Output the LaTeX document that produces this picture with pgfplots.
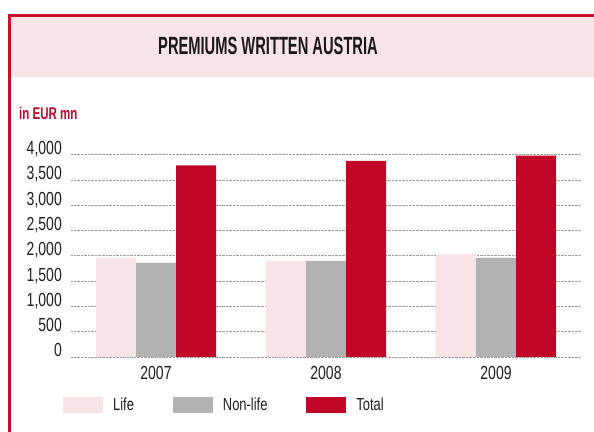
\documentclass[border=0pt]{standalone}
\usepackage{fontspec}
\setmainfont{Liberation Sans}[FakeStretch=0.74]
\newfontfamily\titlefont{Liberation Sans}[FakeStretch=0.59]
\newfontfamily\subfont{Liberation Sans}[FakeStretch=0.68]
\usepackage{pgfplots}
\pgfplotsset{compat=1.18}
\definecolor{lifec}{RGB}{248,228,230}
\definecolor{nonc}{RGB}{177,178,180}
\definecolor{totc}{RGB}{193,5,39}
\definecolor{framec}{RGB}{200,16,46}
\begin{document}
\begin{tikzpicture}
\path[use as bounding box] (0,0) rectangle (594bp,432bp);
\clip (0,0) rectangle (594bp,432bp);
\fill[lifec] (10.7bp,355.3bp) rectangle (600bp,415.3bp);
\draw[framec, line width=2.6bp] (9.3bp,-5bp) -- (9.3bp,416.7bp) -- (600bp,416.7bp);
\node[font=\titlefont\bfseries\fontsize{25}{29}\selectfont, text=black!90, inner sep=0pt] at (268bp,385.7bp) {PREMIUMS WRITTEN AUSTRIA};
\node[font=\subfont\bfseries\fontsize{17}{20}\selectfont, text=totc, inner sep=0pt, anchor=base west] at (19bp,312bp) {in EUR mn};
\begin{axis}[
  at={(71bp,75bp)}, anchor=south west,
  scale only axis, width=510bp, height=202.3bp,
  xmin=-0.5, xmax=2.5, ymin=0, ymax=4000,
  ybar=0pt, bar width=40bp,
  xtick={0,1,2}, xticklabels={2007,2008,2009},
  ytick={0,500,...,4000},
  ymajorgrids, major grid style={densely dotted, black!40, line width=0.7bp},
  axis line style={draw=none}, major tick length=0pt,
  tick label style={font=\fontsize{19}{22}\selectfont, text=black!88},
  yticklabel style={anchor=base east, inner sep=0pt, xshift=-9bp},
  xticklabel style={anchor=base, inner sep=0pt, yshift=-23bp},
  /pgf/number format/.cd, 1000 sep={,}, assume math mode=true, /pgfplots/.cd,
  legend columns=3,
  legend image code/.code={\fill[#1] (0bp,-8bp) rectangle (40bp,8bp);},
  legend style={draw=none, fill=none, inner sep=0pt, at={(-0.0157,-0.2373)}, anchor=west,
    font=\fontsize{17.5}{21}\selectfont, text=black!88, nodes={inner sep=0pt},
    /tikz/every odd column/.append style={column sep=10bp},
    /tikz/every even column/.append style={column sep=39bp}},
]
\addplot[fill=lifec, draw=none] coordinates {(0,1960) (1,1900) (2,2040)};
\addplot[fill=nonc, draw=none] coordinates {(0,1860) (1,1900) (2,1960)};
\addplot[fill=totc, draw=none] coordinates {(0,3790) (1,3880) (2,3980)};
\legend{Life,Non-life,Total}
\end{axis}
\end{tikzpicture}
\end{document}
